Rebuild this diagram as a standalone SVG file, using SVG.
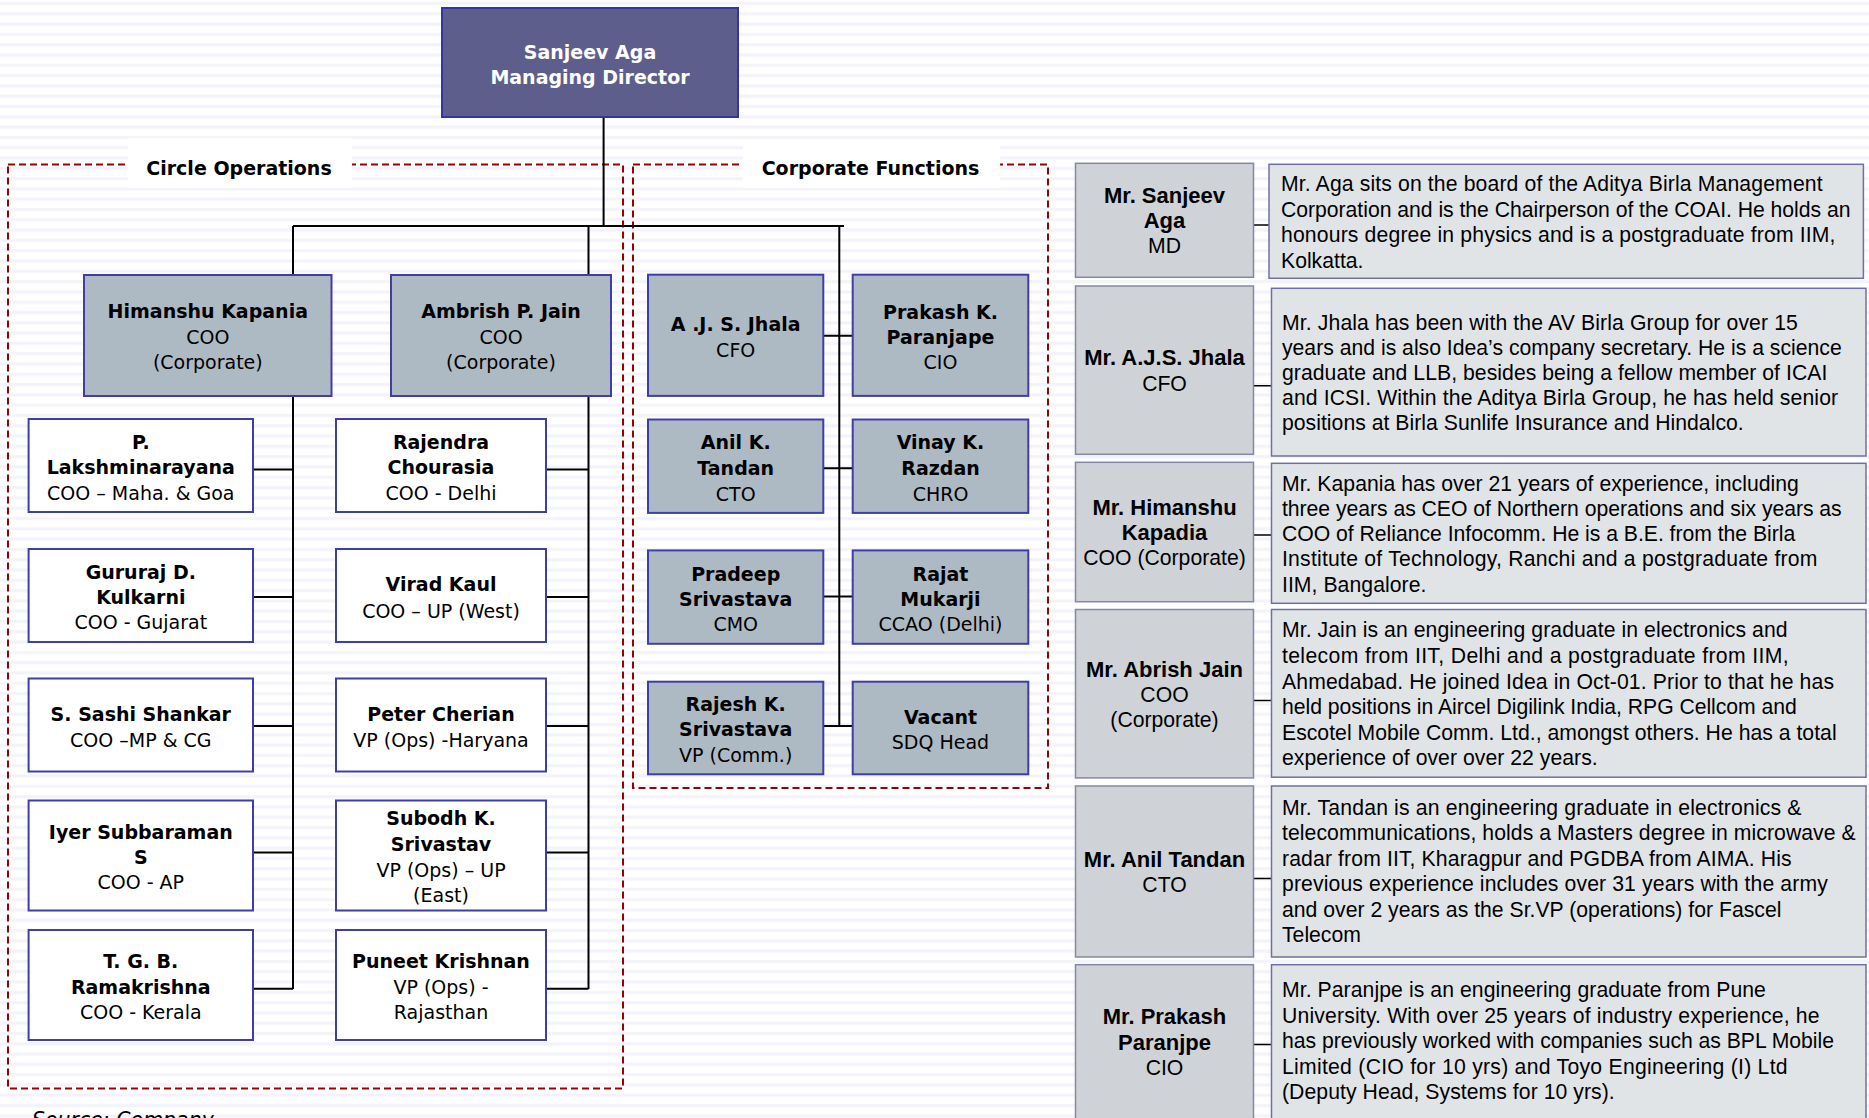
<svg xmlns="http://www.w3.org/2000/svg" width="1869" height="1118" viewBox="0 0 1869 1118">
<defs>
<pattern id="stripes" width="40" height="10.3" patternUnits="userSpaceOnUse"><rect width="40" height="10.3" fill="#ffffff"/><rect y="2" width="40" height="3" fill="#f3f3fb"/></pattern>
<style>
.v{font-family:"DejaVu Sans",Verdana,sans-serif;font-size:19px;text-anchor:middle;fill:#000}
.b{font-weight:bold}
.w{fill:#fff}
.t{font-family:"Liberation Sans",Arial,sans-serif;font-size:21.2px;fill:#000}
.c{text-anchor:middle}
.nb{font-size:22px;font-weight:bold}
.top{fill:#5e5e8c;stroke:#3434a6;stroke-width:2}
.g{fill:#adb9c3;stroke:#3e3eaa;stroke-width:2}
.wb{fill:#fff;stroke:#3e3eaa;stroke-width:2}
.nm{fill:#cfd3d7;stroke:#8686a8;stroke-width:1.5}
.ds{fill:#e1e4e7;stroke:#70709e;stroke-width:1.5}
.dash{fill:none;stroke:#990000;stroke-width:2;stroke-dasharray:7 4}
.ln{fill:none;stroke:#000;stroke-width:2}
.ln2{fill:none;stroke:#000;stroke-width:1.5}
</style>
</defs>
<rect width="1869" height="1118" fill="url(#stripes)"/>

<g id="frames">
<rect class="dash" x="8" y="164.5" width="615" height="924"/>
<rect class="dash" x="633" y="164.5" width="415" height="623.5"/>
<rect x="128" y="138" width="224" height="50" fill="#fff"/>
<rect x="743" y="140" width="257" height="48" fill="#fff"/>
<text class="v b" x="239" y="175">Circle Operations</text>
<text class="v b" x="870.5" y="174.5">Corporate Functions</text>
</g>

<g id="connectors">
<path class="ln" d="M603.6,117 V226 M293,226 H844 M293,226 V989 M588.5,226 V989 M839.3,226 V726"/>
<path class="ln" d="M253,469.6 H293 M253,597 H293 M253,726 H293 M253,852.4 H293 M253,988.8 H293"/>
<path class="ln" d="M546,469.6 H588.5 M546,597 H588.5 M546,726 H588.5 M546,852.4 H588.5 M546,988.8 H588.5"/>
<path class="ln" d="M823,335.7 H853 M823,468.3 H853 M823,596.6 H853 M823,725.9 H853"/>
<path class="ln2" d="M1253.5,225 H1269 M1253.5,385.7 H1271.5 M1253.5,535 H1271.5 M1253.5,700.4 H1271.5 M1253.5,878.6 H1271.5 M1253.5,1044.5 H1271.5"/>
</g>

<g id="md">
<rect class="top" x="442" y="8" width="296" height="109"/>
<text class="v b w" x="590" y="59">Sanjeev Aga</text>
<text class="v b w" x="590" y="84">Managing Director</text>
</g>

<g id="himanshu">
<rect class="g" x="84" y="275" width="247.5" height="121"/>
<text class="v b" x="207.8" y="318">Himanshu Kapania</text>
<text class="v" x="207.8" y="344">COO</text>
<text class="v" x="207.8" y="369">(Corporate)</text>
</g>
<g id="ambrish">
<rect class="g" x="391" y="275" width="220" height="121"/>
<text class="v b" x="501" y="318">Ambrish P. Jain</text>
<text class="v" x="501" y="344">COO</text>
<text class="v" x="501" y="369">(Corporate)</text>
</g>

<g id="lakshminarayana">
<rect class="wb" x="28.6" y="419" width="224.4" height="93"/>
<text class="v b" x="140.8" y="449">P.</text>
<text class="v b" x="140.8" y="474.2">Lakshminarayana</text>
<text class="v" x="140.8" y="499.8">COO – Maha. &amp; Goa</text>
</g>
<g id="kulkarni">
<rect class="wb" x="28.6" y="549" width="224.4" height="93"/>
<text class="v b" x="140.8" y="578.6">Gururaj D.</text>
<text class="v b" x="140.8" y="603.8">Kulkarni</text>
<text class="v" x="140.8" y="629">COO - Gujarat</text>
</g>
<g id="shankar">
<rect class="wb" x="28.6" y="678.5" width="224.4" height="93"/>
<text class="v b" x="140.8" y="721.4">S. Sashi Shankar</text>
<text class="v" x="140.8" y="747">COO –MP &amp; CG</text>
</g>
<g id="subbaraman">
<rect class="wb" x="28.6" y="800.5" width="224.4" height="110"/>
<text class="v b" x="140.8" y="838.6">Iyer Subbaraman</text>
<text class="v b" x="140.8" y="863.8">S</text>
<text class="v" x="140.8" y="889">COO - AP</text>
</g>
<g id="ramakrishna">
<rect class="wb" x="28.6" y="930" width="224.4" height="110"/>
<text class="v b" x="140.8" y="967.8">T. G. B.</text>
<text class="v b" x="140.8" y="993.9">Ramakrishna</text>
<text class="v" x="140.8" y="1019">COO - Kerala</text>
</g>

<g id="chourasia">
<rect class="wb" x="336" y="419" width="210" height="93"/>
<text class="v b" x="441" y="449">Rajendra</text>
<text class="v b" x="441" y="474.2">Chourasia</text>
<text class="v" x="441" y="499.8">COO - Delhi</text>
</g>
<g id="kaul">
<rect class="wb" x="336" y="549" width="210" height="93"/>
<text class="v b" x="441" y="591.4">Virad Kaul</text>
<text class="v" x="441" y="617.5">COO – UP (West)</text>
</g>
<g id="cherian">
<rect class="wb" x="336" y="678.5" width="210" height="93"/>
<text class="v b" x="441" y="721.4">Peter Cherian</text>
<text class="v" x="441" y="747">VP (Ops) -Haryana</text>
</g>
<g id="srivastav">
<rect class="wb" x="336" y="800.5" width="210" height="110"/>
<text class="v b" x="441" y="825">Subodh K.</text>
<text class="v b" x="441" y="851">Srivastav</text>
<text class="v" x="441" y="877">VP (Ops) – UP</text>
<text class="v" x="441" y="901.5">(East)</text>
</g>
<g id="krishnan">
<rect class="wb" x="336" y="930" width="210" height="110"/>
<text class="v b" x="441" y="967.8">Puneet Krishnan</text>
<text class="v" x="441" y="993.9">VP (Ops) -</text>
<text class="v" x="441" y="1019">Rajasthan</text>
</g>

<g id="jhala">
<rect class="g" x="648" y="274.7" width="175.3" height="121.2"/>
<text class="v b" x="735.7" y="330.7">A .J. S. Jhala</text>
<text class="v" x="735.7" y="356.8">CFO</text>
</g>
<g id="paranjape">
<rect class="g" x="852.7" y="274.7" width="175.6" height="121.2"/>
<text class="v b" x="940.5" y="318.9">Prakash K.</text>
<text class="v b" x="940.5" y="344.1">Paranjape</text>
<text class="v" x="940.5" y="369.4">CIO</text>
</g>
<g id="tandan">
<rect class="g" x="648" y="419.5" width="175.3" height="93.4"/>
<text class="v b" x="735.7" y="449.3">Anil K.</text>
<text class="v b" x="735.7" y="475.4">Tandan</text>
<text class="v" x="735.7" y="500.7">CTO</text>
</g>
<g id="razdan">
<rect class="g" x="852.7" y="419.5" width="175.6" height="93.4"/>
<text class="v b" x="940.5" y="449.3">Vinay K.</text>
<text class="v b" x="940.5" y="475.4">Razdan</text>
<text class="v" x="940.5" y="500.7">CHRO</text>
</g>
<g id="pradeep">
<rect class="g" x="648" y="550.4" width="175.3" height="93.4"/>
<text class="v b" x="735.7" y="580.7">Pradeep</text>
<text class="v b" x="735.7" y="605.9">Srivastava</text>
<text class="v" x="735.7" y="631.2">CMO</text>
</g>
<g id="mukarji">
<rect class="g" x="852.7" y="550.4" width="175.6" height="93.4"/>
<text class="v b" x="940.5" y="580.7">Rajat</text>
<text class="v b" x="940.5" y="605.9">Mukarji</text>
<text class="v" x="940.5" y="631.2">CCAO (Delhi)</text>
</g>
<g id="rajesh">
<rect class="g" x="648" y="681.7" width="175.3" height="92.6"/>
<text class="v b" x="735.7" y="711.1">Rajesh K.</text>
<text class="v b" x="735.7" y="736.4">Srivastava</text>
<text class="v" x="735.7" y="761.6">VP (Comm.)</text>
</g>
<g id="vacant">
<rect class="g" x="852.7" y="681.7" width="175.6" height="92.6"/>
<text class="v b" x="940.5" y="723.8">Vacant</text>
<text class="v" x="940.5" y="749">SDQ Head</text>
</g>

<g id="p-aga">
<rect class="nm" x="1075.5" y="163.3" width="178" height="114"/>
<text class="t c nb" x="1164.5" y="202.7">Mr. Sanjeev</text>
<text class="t c nb" x="1164.5" y="228.3">Aga</text>
<text class="t c" x="1164.5" y="253.3">MD</text>
</g>
<g id="d-aga">
<rect class="ds" x="1269" y="164.3" width="594.4" height="114"/>
<text class="t" x="1281" y="190.7" textLength="541.6">Mr. Aga sits on the board of the Aditya Birla Management</text>
<text class="t" x="1281" y="216.5" textLength="569.5">Corporation and is the Chairperson of the COAI. He holds an</text>
<text class="t" x="1281" y="242.3" textLength="554.5">honours degree in physics and is a postgraduate from IIM,</text>
<text class="t" x="1281" y="268.3">Kolkatta.</text>
</g>

<g id="p-jhala">
<rect class="nm" x="1075.5" y="286" width="178" height="168.3"/>
<text class="t c nb" x="1164.5" y="365">Mr. A.J.S. Jhala</text>
<text class="t c" x="1164.5" y="390.7">CFO</text>
</g>
<g id="d-jhala">
<rect class="ds" x="1271.5" y="288.3" width="594.5" height="167.7"/>
<text class="t" x="1282" y="330" textLength="515.9">Mr. Jhala has been with the AV Birla Group for over 15</text>
<text class="t" x="1282" y="355" textLength="559.7">years and is also Idea’s company secretary. He is a science</text>
<text class="t" x="1282" y="380" textLength="545.3">graduate and LLB, besides being a fellow member of ICAI</text>
<text class="t" x="1282" y="405" textLength="556.1">and ICSI. Within the Aditya Birla Group, he has held senior</text>
<text class="t" x="1282" y="430" textLength="461.7">positions at Birla Sunlife Insurance and Hindalco.</text>
</g>

<g id="p-kapania">
<rect class="nm" x="1075.5" y="462.3" width="178" height="139.4"/>
<text class="t c nb" x="1164.5" y="515">Mr. Himanshu</text>
<text class="t c nb" x="1164.5" y="540">Kapadia</text>
<text class="t c" x="1164.5" y="565">COO (Corporate)</text>
</g>
<g id="d-kapania">
<rect class="ds" x="1271.5" y="463.3" width="594.5" height="140"/>
<text class="t" x="1282" y="490.5" textLength="516.9">Mr. Kapania has over 21 years of experience, including</text>
<text class="t" x="1282" y="515.7" textLength="559.7">three years as CEO of Northern operations and six years as</text>
<text class="t" x="1282" y="540.9" textLength="513.3">COO of Reliance Infocomm. He is a B.E. from the Birla</text>
<text class="t" x="1282" y="566.4" textLength="535.5">Institute of Technology, Ranchi and a postgraduate from</text>
<text class="t" x="1282" y="591.7" textLength="144.4">IIM, Bangalore.</text>
</g>

<g id="p-jain">
<rect class="nm" x="1075.5" y="609.5" width="178" height="168.4"/>
<text class="t c nb" x="1164.5" y="676.9">Mr. Abrish Jain</text>
<text class="t c" x="1164.5" y="701.8">COO</text>
<text class="t c" x="1164.5" y="727">(Corporate)</text>
</g>
<g id="d-jain">
<rect class="ds" x="1271.5" y="609.5" width="594.5" height="167.7"/>
<text class="t" x="1282" y="637.1" textLength="505.6">Mr. Jain is an engineering graduate in electronics and</text>
<text class="t" x="1282" y="663" textLength="506.6">telecom from IIT, Delhi and a postgraduate from IIM,</text>
<text class="t" x="1282" y="688.7" textLength="552">Ahmedabad. He joined Idea in Oct-01. Prior to that he has</text>
<text class="t" x="1282" y="714.4" textLength="514.8">held positions in Aircel Digilink India, RPG Cellcom and</text>
<text class="t" x="1282" y="739.8" textLength="554.6">Escotel Mobile Comm. Ltd., amongst others. He has a total</text>
<text class="t" x="1282" y="765" textLength="315.7">experience of over over 22 years.</text>
</g>

<g id="p-tandan">
<rect class="nm" x="1075.5" y="786" width="178" height="171"/>
<text class="t c nb" x="1164.5" y="866.8">Mr. Anil Tandan</text>
<text class="t c" x="1164.5" y="892.4">CTO</text>
</g>
<g id="d-tandan">
<rect class="ds" x="1271.5" y="786" width="594.5" height="171"/>
<text class="t" x="1282" y="814.9" textLength="519.5">Mr. Tandan is an engineering graduate in electronics &amp;</text>
<text class="t" x="1282" y="840.3" textLength="573.7">telecommunications, holds a Masters degree in microwave &amp;</text>
<text class="t" x="1282" y="865.7" textLength="509.7">radar from IIT, Kharagpur and PGDBA from AIMA. His</text>
<text class="t" x="1282" y="891.1" textLength="545.8">previous experience includes over 31 years with the army</text>
<text class="t" x="1282" y="916.5" textLength="499.4">and over 2 years as the Sr.VP (operations) for Fascel</text>
<text class="t" x="1282" y="942.4">Telecom</text>
</g>

<g id="p-paranjpe">
<rect class="nm" x="1075.5" y="964.7" width="178" height="170"/>
<text class="t c nb" x="1164.5" y="1024.3">Mr. Prakash</text>
<text class="t c nb" x="1164.5" y="1049.6">Paranjpe</text>
<text class="t c" x="1164.5" y="1074.8">CIO</text>
</g>
<g id="d-paranjpe">
<rect class="ds" x="1271.5" y="964.7" width="594.5" height="170"/>
<text class="t" x="1282" y="997.4" textLength="483.9">Mr. Paranjpe is an engineering graduate from Pune</text>
<text class="t" x="1282" y="1022.8" textLength="537.5">University. With over 25 years of industry experience, he</text>
<text class="t" x="1282" y="1048.4" textLength="552">has previously worked with companies such as BPL Mobile</text>
<text class="t" x="1282" y="1074" textLength="505.6">Limited (CIO for 10 yrs) and Toyo Engineering (I) Ltd</text>
<text class="t" x="1282" y="1099.1" textLength="332.7">(Deputy Head, Systems for 10 yrs).</text>
</g>

<text x="32" y="1127" font-family="DejaVu Sans, sans-serif" font-size="20.5" font-style="italic" fill="#000">Source: Company</text>
</svg>
